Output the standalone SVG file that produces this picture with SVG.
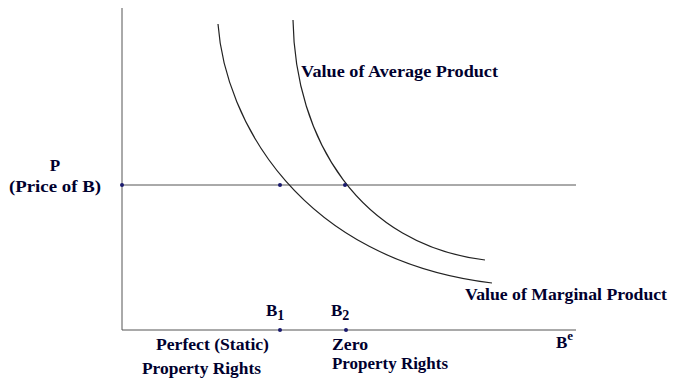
<svg xmlns="http://www.w3.org/2000/svg" width="677" height="378" viewBox="0 0 677 378">
<style>
.ax{stroke:#555;stroke-width:1;fill:none}
.cv{stroke:#222;stroke-width:1.2;fill:none}
.t{font-family:'Liberation Serif','DejaVu Serif','Times New Roman',serif;font-weight:bold;font-size:17px;fill:#00002e}
.d{fill:#1a1a6e}
</style>
<rect width="677" height="378" fill="#fff"/>
<g id="connectors">
<line class="ax" x1="122" y1="8" x2="122" y2="330"/>
<line class="ax" x1="122" y1="330" x2="576" y2="330"/>
<line class="ax" x1="122" y1="185" x2="576" y2="185"/>
<path id="vmp" class="cv" d="M218,24 C225,120 300,260 492,283"/>
<path id="vap" class="cv" d="M293,20 C295,140 360,245 485,260"/>
</g>
<g id="points">
<circle class="d" cx="122" cy="185" r="2"/>
<circle class="d" cx="280" cy="185" r="2"/>
<circle class="d" cx="345" cy="185" r="2"/>
<circle class="d" cx="280" cy="330" r="2"/>
<circle class="d" cx="346" cy="330" r="2"/>
</g>
<g id="labels">
<text class="t" x="55" y="171" text-anchor="middle">P</text>
<text class="t" x="55" y="192" text-anchor="middle" textLength="92" lengthAdjust="spacingAndGlyphs">(Price of B)</text>
<text class="t" x="301" y="77" textLength="197" lengthAdjust="spacingAndGlyphs">Value of Average Product</text>
<text class="t" x="465" y="300" textLength="202" lengthAdjust="spacingAndGlyphs">Value of Marginal Product</text>
<text class="t" x="266" y="316" font-size="18">B<tspan font-size="14" dy="4">1</tspan></text>
<text class="t" x="331" y="316" font-size="18">B<tspan font-size="14" dy="4">2</tspan></text>
<text class="t" x="156" y="350" textLength="113" lengthAdjust="spacingAndGlyphs">Perfect (Static)</text>
<text class="t" x="142" y="374" textLength="119" lengthAdjust="spacingAndGlyphs">Property Rights</text>
<text class="t" x="332" y="350" textLength="36" lengthAdjust="spacingAndGlyphs">Zero</text>
<text class="t" x="332" y="369" textLength="116" lengthAdjust="spacingAndGlyphs">Property Rights</text>
<text class="t" x="556" y="348" font-size="18">B<tspan font-size="13" dy="-8">e</tspan></text>
</g>
</svg>
